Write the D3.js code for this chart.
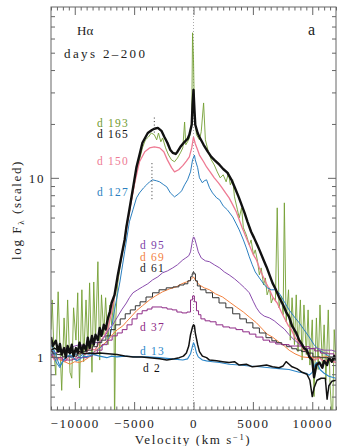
<!DOCTYPE html>
<html><head><meta charset="utf-8">
<script src="https://cdn.jsdelivr.net/npm/d3@7"></script>
<style>body{margin:0;background:#fff}svg{display:block}text{font-family:"Liberation Serif","DejaVu Serif",serif}</style>
</head><body>
<svg id="c" width="337" height="446"></svg>
<script>
// ---- data: [velocity (km/s), scaled flux] ----
const d193=[[-12000,1.42],[-11900,2.08],[-11750,1.07],[-11600,0.79],[-11400,2.31],[-11250,1.17],[-11100,0.65],[-10900,1.65],[-10750,0.99],[-10600,2.08],[-10400,0.82],[-10250,0.76],[-10100,1.88],[-9900,1.24],[-9750,2.28],[-9600,0.67],[-9400,2.37],[-9250,0.94],[-9050,2.08],[-8900,1.09],[-8750,2.59],[-8550,0.82],[-8400,2.62],[-8250,1.24],[-8050,3.40],[-7900,0.96],[-7750,2.22],[-7550,1.33],[-7400,2.14],[-7200,1.17],[-7050,1.95],[-6900,1.51],[-6700,2.14],[-6650,0.40],[-6550,1.61],[-6400,2.52],[-6200,3.14],[-5950,3.96],[-5800,4.33],[-5650,5.46],[-5400,6.46],[-5100,8.35],[-4950,9.38],[-4800,11.1],[-4550,12.6],[-4300,14.7],[-4050,16.3],[-3800,16.9],[-3550,17.8],[-3300,17.4],[-3100,16.3],[-2950,17.8],[-2750,15.9],[-2600,16.7],[-2350,14.7],[-2100,13.4],[-1850,12.6],[-1600,12.3],[-1350,12.9],[-1100,13.8],[-900,14.7],[-750,20.5],[-650,15.3],[-500,15.9],[-350,16.7],[-150,20.5],[-80,64.6],[0,45.6],[80,22.5],[250,17.4],[500,16.3],[650,18.1],[850,26.2],[1000,16.3],[1250,14.0],[1500,12.6],[1750,11.8],[2000,10.8],[2250,10.0],[2500,10.4],[2750,9.50],[2950,10.7],[3100,9.14],[3300,9.75],[3450,7.83],[3700,6.63],[3850,5.98],[4050,6.80],[4200,5.26],[4450,4.80],[4700,4.22],[4850,4.50],[5050,3.71],[5200,3.96],[5400,3.40],[5550,2.87],[5700,3.14],[5900,2.52],[6050,2.76],[6200,2.22],[6400,2.43],[6550,2.00],[6700,2.14],[6900,2.08],[7050,6.80],[7200,1.88],[7400,2.19],[7550,1.72],[7650,7.25],[7800,1.57],[8000,2.37],[8150,1.24],[8300,2.14],[8500,1.17],[8650,2.22],[8800,1.07],[9000,2.08],[9150,0.96],[9300,1.95],[9500,1.03],[9650,1.83],[9800,0.90],[10000,1.61],[10150,0.60],[10350,1.65],[10500,0.85],[10650,1.95],[10850,0.90],[11000,1.51],[11150,0.74],[11350,1.83],[11500,0.70],[11700,0.40],[11850,1.42],[12000,0.96]];
const d165=[[-12000,1.29],[-11850,1.15],[-11600,1.23],[-11400,1.07],[-11250,1.18],[-11100,1.03],[-10900,1.12],[-10750,0.99],[-10600,1.15],[-10400,1.05],[-10250,1.17],[-10100,1.01],[-9900,1.12],[-9750,1.05],[-9600,1.20],[-9400,1.07],[-9250,1.17],[-9050,1.09],[-8900,1.28],[-8750,1.12],[-8550,1.31],[-8400,1.17],[-8250,1.33],[-8050,1.24],[-7900,1.45],[-7750,1.31],[-7550,1.51],[-7400,1.42],[-7200,1.65],[-7050,1.78],[-6900,2.00],[-6650,2.22],[-6400,2.80],[-6050,3.71],[-5800,4.50],[-5650,5.32],[-5400,6.63],[-5050,9.14],[-4800,11.5],[-4550,13.4],[-4300,15.7],[-3850,17.8],[-3500,18.5],[-3300,18.8],[-3000,19.0],[-2700,18.3],[-2450,16.9],[-2200,15.7],[-1950,14.3],[-1750,13.8],[-1500,13.6],[-1350,14.0],[-1100,14.9],[-750,15.9],[-500,16.5],[-350,17.4],[-150,19.8],[-80,25.6],[0,31.0],[80,24.0],[150,19.8],[350,17.8],[500,16.9],[850,15.3],[1200,14.0],[1500,13.1],[1750,12.6],[2200,11.8],[2500,11.2],[2850,10.7],[3200,9.75],[3450,8.91],[3800,7.83],[4050,7.06],[4300,6.37],[4550,5.68],[4850,5.0],[5100,4.62],[5400,4.17],[5550,3.96],[5900,3.48],[6150,3.18],[6400,2.87],[6650,2.59],[6900,2.40],[7200,2.16],[7550,1.95],[7800,1.78],[8050,1.67],[8300,1.49],[8650,1.36],[8900,1.24],[9150,1.17],[9300,1.12],[9550,1.09],[9750,1.00],[10000,0.96],[10150,0.77],[10350,0.90],[10600,0.93],[10850,0.87],[11000,0.95],[11250,0.90],[11400,0.99],[11650,0.94],[11850,1.01],[12000,0.96]];
const d150=[[-12000,1.03],[-11700,0.96],[-11250,0.99],[-10850,0.94],[-10400,1.01],[-10000,0.97],[-9600,1.07],[-9150,1.03],[-8750,1.12],[-8300,1.09],[-7900,1.21],[-7500,1.31],[-7200,1.45],[-6900,1.78],[-6550,2.37],[-6200,3.27],[-5800,4.50],[-5400,6.46],[-4950,9.38],[-4550,12.3],[-4100,14.0],[-3700,14.7],[-3300,14.9],[-2850,14.7],[-2500,14.0],[-2200,12.6],[-1850,11.4],[-1600,10.8],[-1250,11.1],[-900,11.7],[-600,12.4],[-350,13.1],[-150,14.7],[0,16.9],[150,15.5],[350,14.3],[500,13.4],[850,12.3],[1100,11.5],[1400,10.8],[1750,10.0],[2100,9.38],[2350,8.91],[2700,8.24],[3000,7.73],[3350,6.97],[3600,6.46],[3850,5.83],[4100,5.26],[4450,4.62],[4700,4.22],[5050,3.71],[5300,3.48],[5550,3.14],[5800,2.87],[6150,2.56],[6400,2.37],[6700,2.14],[7050,2.00],[7400,1.78],[7650,1.65],[8000,1.49],[8250,1.42],[8550,1.28],[8900,1.20],[9300,1.09],[9750,1.03],[10150,0.96],[10600,0.99],[11000,0.94],[11400,0.96],[12000,0.93]];
const d127=[[-12000,1.00],[-11850,1.09],[-11600,0.94],[-11250,0.87],[-11000,0.96],[-10650,1.01],[-10250,0.99],[-9900,1.04],[-9600,1.00],[-9150,1.05],[-8750,1.03],[-8250,1.08],[-7900,1.12],[-7550,1.17],[-7200,1.24],[-6950,1.38],[-6650,1.83],[-6200,2.62],[-5800,3.86],[-5400,5.68],[-5100,6.63],[-4800,7.73],[-4550,8.24],[-4200,8.80],[-3950,9.14],[-3700,9.50],[-3450,9.75],[-3100,9.62],[-2850,9.50],[-2500,9.14],[-2250,8.91],[-1950,8.24],[-1600,7.83],[-1250,8.14],[-1000,8.46],[-750,9.14],[-500,9.75],[-250,10.8],[-80,12.6],[80,13.4],[150,12.6],[350,11.4],[500,10.0],[750,9.38],[900,9.62],[1100,9.75],[1350,8.80],[1600,8.24],[1950,7.73],[2200,7.54],[2500,6.97],[2850,6.63],[3300,6.05],[3600,5.53],[3850,5.12],[4200,4.50],[4450,4.06],[4700,3.62],[4950,3.27],[5200,2.98],[5550,2.76],[5900,2.56],[6200,2.43],[6550,2.37],[6900,2.37],[7200,2.28],[7650,2.03],[8050,1.83],[8500,1.67],[8900,1.55],[9300,1.42],[9750,1.29],[10150,1.17],[10600,1.09],[11000,1.05],[11400,1.01],[12000,0.99]];
const d95=[[-12000,1.09],[-11700,1.05],[-11250,1.07],[-10850,1.12],[-10400,1.11],[-10000,1.15],[-9600,1.17],[-9150,1.15],[-8750,1.18],[-8300,1.20],[-7900,1.21],[-7550,1.28],[-7300,1.36],[-7050,1.45],[-6800,1.51],[-6450,1.65],[-6050,1.83],[-5650,2.00],[-5400,2.14],[-5100,2.28],[-4700,2.37],[-4300,2.46],[-3850,2.56],[-3450,2.69],[-3000,2.80],[-2600,2.95],[-2200,3.02],[-1750,3.14],[-1350,3.27],[-900,3.48],[-650,3.57],[-400,3.67],[-250,3.86],[-150,4.22],[-80,4.50],[0,4.68],[80,4.62],[250,4.22],[400,3.86],[650,3.57],[1000,3.44],[1350,3.40],[1750,3.27],[2200,3.14],[2600,2.98],[3000,2.87],[3450,2.73],[3850,2.59],[4300,2.43],[4700,2.28],[5050,2.03],[5300,1.88],[5600,1.76],[5950,1.69],[6400,1.65],[6800,1.59],[7200,1.51],[7650,1.43],[8050,1.33],[8500,1.24],[8900,1.18],[9300,1.12],[9750,1.11],[10350,1.12],[11000,1.09],[11650,1.09],[12000,1.07]];
const d69=[[-12000,1.00],[-11700,1.01],[-11250,0.96],[-10850,0.94],[-10400,0.91],[-10000,0.94],[-9600,0.93],[-9150,0.96],[-8750,1.00],[-8300,1.07],[-7900,1.14],[-7550,1.18],[-7200,1.24],[-6800,1.34],[-6400,1.42],[-5950,1.49],[-5650,1.57],[-5200,1.69],[-4800,1.81],[-4300,1.93],[-3700,2.08],[-3200,2.19],[-2600,2.31],[-2000,2.40],[-1450,2.46],[-1000,2.56],[-600,2.62],[-350,2.66],[-150,2.73],[0,2.80],[150,2.69],[350,2.59],[500,2.52],[900,2.43],[1350,2.37],[1850,2.25],[2450,2.16],[3000,2.03],[3600,1.90],[4200,1.78],[4700,1.67],[5300,1.55],[5800,1.43],[6200,1.34],[6650,1.29],[7200,1.21],[7650,1.15],[8050,1.09],[8550,1.04],[9150,1.00],[9750,0.99],[10350,0.99],[11000,1.00],[11400,1.00],[12000,0.99]];
const d61=[[-12000,1.07],[-11700,1.04],[-11250,1.03],[-10850,1.00],[-10400,1.01],[-10000,1.01],[-9600,1.04],[-9150,1.07],[-8750,1.09],[-8300,1.14],[-7900,1.20],[-7550,1.24],[-7200,1.31],[-6800,1.42],[-6400,1.51],[-5950,1.63],[-5550,1.74],[-5100,1.83],[-4700,1.93],[-4300,2.03],[-3700,2.16],[-3200,2.28],[-2600,2.37],[-2000,2.43],[-1450,2.46],[-1000,2.52],[-600,2.56],[-350,2.66],[-150,2.80],[-80,2.91],[0,2.98],[80,2.91],[250,2.66],[400,2.49],[750,2.37],[1350,2.28],[1850,2.14],[2450,2.00],[3000,1.88],[3600,1.74],[4200,1.63],[4700,1.55],[5300,1.45],[5800,1.36],[6400,1.28],[6800,1.23],[7200,1.20],[7650,1.17],[8050,1.14],[8500,1.11],[8900,1.09],[9300,1.07],[9750,1.05],[10350,1.00],[11000,0.99],[11400,0.99],[12000,0.96]];
const d37=[[-12000,1.03],[-11700,0.99],[-11250,0.99],[-10850,0.96],[-10400,0.96],[-10000,0.97],[-9600,0.99],[-9150,0.99],[-8750,1.01],[-8300,1.05],[-7900,1.09],[-7500,1.17],[-7050,1.24],[-6650,1.31],[-6200,1.36],[-5800,1.42],[-5400,1.51],[-4950,1.63],[-4550,1.74],[-4100,1.81],[-3700,1.85],[-3300,1.90],[-2850,1.90],[-2450,1.88],[-2000,1.85],[-1600,1.83],[-1200,1.78],[-750,1.76],[-350,1.78],[-150,2.08],[0,2.19],[150,2.03],[350,1.81],[500,1.72],[750,1.63],[1200,1.59],[1600,1.57],[2200,1.51],[2750,1.47],[3300,1.45],[3850,1.42],[4450,1.38],[4950,1.34],[5550,1.29],[6150,1.24],[6650,1.21],[7200,1.18],[7800,1.17],[8300,1.15],[8900,1.15],[9500,1.14],[10000,1.11],[10400,1.08],[11000,1.05],[11650,1.04],[12000,1.01]];
const d13=[[-12000,1.17],[-11850,1.12],[-11700,1.07],[-11400,0.94],[-11250,0.89],[-11000,0.94],[-10750,0.99],[-10400,1.03],[-10150,1.00],[-9850,0.95],[-9600,0.97],[-9250,1.01],[-8900,1.00],[-8500,1.03],[-7900,1.01],[-7300,0.99],[-6900,1.01],[-6450,1.00],[-5800,1.01],[-4800,1.00],[-3850,1.00],[-2850,0.99],[-1850,0.975],[-900,0.96],[-500,0.975],[-250,1.04],[-80,1.15],[0,1.20],[80,1.17],[250,1.05],[400,1.00],[750,0.96],[1100,0.95],[1600,0.94],[2200,0.93],[3000,0.91],[3850,0.90],[4700,0.89],[5550,0.88],[6400,0.87],[7200,0.86],[8050,0.85],[8900,0.82],[9500,0.81],[9750,0.79],[10000,0.82],[10250,0.91],[10400,0.93],[10650,0.85],[11000,0.81],[11400,0.78],[12000,0.76]];
const d2=[[-12000,1.09],[-11700,1.12],[-11250,1.07],[-10850,1.09],[-10400,1.05],[-10000,1.08],[-9600,1.07],[-9150,1.04],[-8750,1.05],[-8300,1.04],[-7900,1.05],[-7200,1.04],[-6450,1.03],[-5800,1.01],[-5100,1.00],[-4350,1.00],[-3700,0.99],[-2850,0.975],[-2250,0.96],[-1600,0.975],[-1200,0.99],[-850,1.01],[-600,1.05],[-400,1.15],[-250,1.33],[-80,1.47],[0,1.51],[80,1.49],[150,1.36],[350,1.17],[500,1.07],[750,1.01],[1100,0.99],[1350,0.96],[1950,0.95],[2450,0.94],[3000,0.93],[3450,0.94],[3850,0.90],[4450,0.91],[4950,0.88],[5550,0.89],[6150,0.90],[6650,0.88],[7200,0.87],[7550,0.89],[7800,0.94],[8050,0.91],[8300,0.88],[8700,0.86],[9150,0.82],[9550,0.80],[9800,0.74],[10000,0.60],[10150,0.67],[10400,0.74],[10750,0.76],[11100,0.76],[11250,0.58],[11400,0.69],[11650,0.73],[12000,0.74]];
// short dotted markers at the blue-side peaks: [velocity, flux from, flux to]
const peakMarks=[[-3300,17.9,22.0],[-3500,7.6,12.2]];

const seriesLabels=["d 193","d 165","d 150","d 127","d 95","d 69","d 61","d 37","d 13","d 2"];
const velMajor=[-10000,-5000,0,5000,10000];
const velMinor=d3.range(-12000,12001,500).filter(v=>v%5000!==0);
const fluxMajor=[1,10];
const fluxMinor=[0.6,0.7,0.8,0.9,2,3,4,5,6,7,8,9,20,30,40,50,60,70,80];

// ---- drawing ----
const svg=d3.select("#c");
const L=51,R=336,T=7,B=410;
const x=d3.scaleLinear().domain([-12000,12000]).range([L,R]);
const y=d3.scaleLog().domain([0.505,90]).range([B,T]);

svg.append("defs").append("clipPath").attr("id","clip").append("rect")
  .attr("x",L).attr("y",T).attr("width",R-L).attr("height",B-T);

// zero-velocity dotted line
svg.append("line").attr("x1",x(0)).attr("x2",x(0)).attr("y1",T).attr("y2",B)
  .attr("stroke","#aaa").attr("stroke-width",1).attr("stroke-dasharray","1,2");

const plot=svg.append("g").attr("clip-path","url(#clip)");
const series=[
 {data:d193,color:"#74a034",w:1,curve:d3.curveLinear,op:0.9},
 {data:d150,color:"#ee7a93",w:1.3,curve:d3.curveLinear},
 {data:d127,color:"#2c7fc0",w:1,curve:d3.curveLinear},
 {data:d95,color:"#8a4cad",w:1,curve:d3.curveLinear},
 {data:d69,color:"#f3823f",w:1,curve:d3.curveLinear},
 {data:d61,color:"#333",w:1,curve:d3.curveStep},
 {data:d37,color:"#8e2a86",w:1,curve:d3.curveStep},
 {data:d13,color:"#2b86c9",w:1.1,curve:d3.curveLinear},
 {data:d2,color:"#111",w:1.5,curve:d3.curveLinear},
 {data:d165,color:"#111",w:2.4,curve:d3.curveLinear}
];
series.forEach(s=>{
  plot.append("path").datum(s.data)
   .attr("d",d3.line().x(d=>x(d[0])).y(d=>y(d[1])).curve(s.curve))
   .attr("fill","none").attr("stroke",s.color).attr("stroke-width",s.w)
   .attr("stroke-linejoin","round").attr("opacity",s.op||1);
});
peakMarks.forEach(m=>{
  plot.append("line").attr("x1",x(m[0])).attr("x2",x(m[0]))
   .attr("y1",y(m[1])).attr("y2",y(m[2])).attr("stroke","#333")
   .attr("stroke-width",1).attr("stroke-dasharray","1,2.5");
});

// frame
svg.append("rect").attr("x",L).attr("y",T).attr("width",R-L).attr("height",B-T)
  .attr("fill","none").attr("stroke","#666").attr("stroke-width",1);

const fmt=d3.format("d");
function styleAxis(g){g.select(".domain").remove();g.selectAll(".tick line").attr("stroke","#666");
  g.selectAll("text").style("font-family",'"Liberation Serif","DejaVu Serif",serif').style("font-size","13px").style("letter-spacing","1.6px").style("fill","#222");}
svg.append("g").attr("transform",`translate(0,${B})`).call(d3.axisBottom(x).tickValues(velMajor).tickSize(-8).tickPadding(8.5).tickFormat(fmt)).call(styleAxis);
svg.append("g").attr("transform",`translate(0,${B})`).call(d3.axisBottom(x).tickValues(velMinor).tickSize(-3.5).tickFormat("")).call(styleAxis);
svg.append("g").attr("transform",`translate(0,${T})`).call(d3.axisTop(x).tickValues(velMajor).tickSize(-8).tickFormat("")).call(styleAxis);
svg.append("g").attr("transform",`translate(0,${T})`).call(d3.axisTop(x).tickValues(velMinor).tickSize(-3.5).tickFormat("")).call(styleAxis);
svg.append("g").attr("transform",`translate(${L},0)`).call(d3.axisLeft(y).tickValues(fluxMajor).tickSize(-8).tickPadding(6).tickFormat(fmt)).call(styleAxis);
svg.append("g").attr("transform",`translate(${L},0)`).call(d3.axisLeft(y).tickValues(fluxMinor).tickSize(-4).tickFormat("")).call(styleAxis);
svg.append("g").attr("transform",`translate(${R},0)`).call(d3.axisRight(y).tickValues(fluxMajor).tickSize(-8).tickFormat("")).call(styleAxis);
svg.append("g").attr("transform",`translate(${R},0)`).call(d3.axisRight(y).tickValues(fluxMinor).tickSize(-4).tickFormat("")).call(styleAxis);

// axis titles
const xt=svg.append("text").attr("x",193).attr("y",444).attr("text-anchor","middle")
  .style("font-size","13px").style("letter-spacing","1.6px").style("fill","#222");
xt.append("tspan").text("Velocity (km s");
xt.append("tspan").attr("dy",-4).style("font-size","8.5px").text("−1");
xt.append("tspan").attr("dy",4).text(")");
const yt=svg.append("text").attr("transform","translate(21,210) rotate(-90)").attr("text-anchor","middle")
  .style("font-size","13px").style("letter-spacing","1.6px").style("fill","#222");
yt.append("tspan").text("log F");
yt.append("tspan").attr("dy",3).style("font-size","9px").text("λ");
yt.append("tspan").attr("dy",-3).text(" (scaled)");

// panel texts
svg.append("text").attr("x",77).attr("y",35).style("font-size","13px").style("fill","#222").text("Hα");
svg.append("text").attr("x",64).attr("y",58).style("font-size","13px").style("fill","#222").attr("textLength",81).attr("lengthAdjust","spacing").text("days 2–200");
svg.append("text").attr("x",308).attr("y",35).style("font-size","16px").style("fill","#222").text("a");

// series labels
const labelPos=[[97,127],[97,138],[97,165],[97,196],[140,249],[140,260.5],[140,272],[140,331],[140,355],[143,372]];
const labelCol=["#6f9a2e","#111","#ee7a93","#2c7fc0","#7d3fa8","#f3823f","#222","#8e2a86","#2b86c9","#111"];
seriesLabels.forEach((t,i)=>{
  svg.append("text").attr("x",labelPos[i][0]).attr("y",labelPos[i][1])
   .style("font-size","11.5px").style("letter-spacing","1.2px").style("fill",labelCol[i]).text(t);
});
</script>
</body></html>
